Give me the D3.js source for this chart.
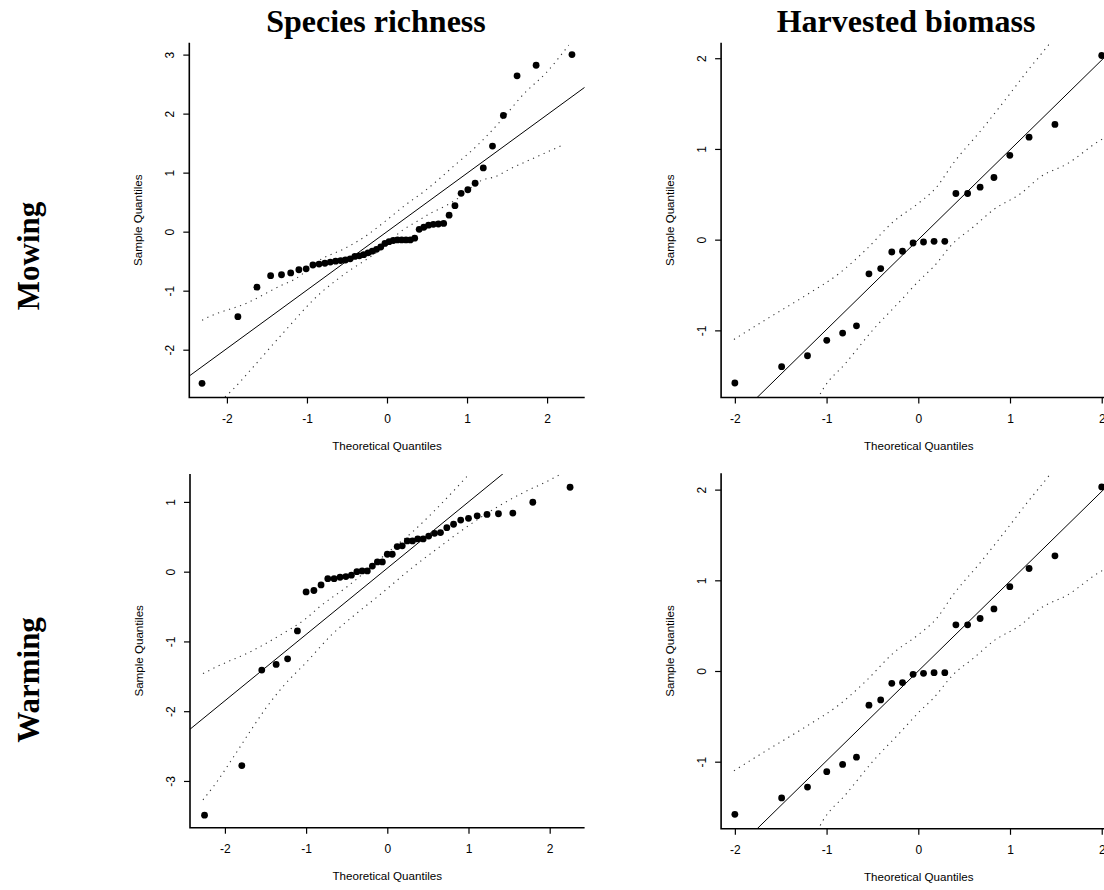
<!DOCTYPE html>
<html>
<head>
<meta charset="utf-8">
<script src="https://cdn.jsdelivr.net/npm/d3@7"></script>
<style>
  html, body { margin: 0; padding: 0; background: #fff; }
  svg { display: block; }
</style>
</head>
<body>
<script>
// ---------------- DATA ----------------
const columnTitles = ["Species richness", "Harvested biomass"];
const rowTitles = ["Mowing", "Warming"];
const xAxisTitle = "Theoretical Quantiles";
const yAxisTitle = "Sample Quantiles";

// theoretical quantiles (x positions of the points)
const richMowX = [-2.311,-1.863,-1.625,-1.454,-1.318,-1.203,-1.101,-1.010,-0.926,-0.849,-0.776,-0.708,-0.642,-0.579,-0.519,-0.460,-0.402,-0.346,-0.291,-0.237,-0.184,-0.131,-0.078,-0.026,0.026,0.078,0.131,0.184,0.237,0.291,0.346,0.402,0.460,0.519,0.579,0.642,0.708,0.776,0.849,0.926,1.010,1.101,1.203,1.318,1.454,1.625,1.863,2.311];
const richMowY = [-2.57,-1.44,-0.94,-0.745,-0.73,-0.70,-0.645,-0.63,-0.565,-0.55,-0.535,-0.515,-0.50,-0.49,-0.48,-0.46,-0.42,-0.41,-0.39,-0.36,-0.33,-0.30,-0.26,-0.20,-0.17,-0.15,-0.14,-0.14,-0.14,-0.14,-0.11,0.04,0.075,0.11,0.125,0.13,0.14,0.28,0.44,0.65,0.71,0.82,1.08,1.45,1.97,2.64,2.82,3.00];
const richMowLine = [0.0, 0.99]; // intercept, slope
const richMowUpper = [[-2.31,-1.50],[-2.22,-1.44],[-1.75,-1.21],[-1.32,-0.91],[-1.17,-0.82],[-0.80,-0.45],[-0.55,-0.30],[-0.25,-0.06],[0.0,0.20],[0.20,0.42],[0.50,0.72],[0.85,1.13],[1.12,1.45],[1.41,1.86],[1.72,2.35],[1.98,2.68],[2.27,3.16]];
const richMowLower = [[-2.31,-3.10],[-1.93,-2.68],[-1.67,-2.29],[-1.30,-1.72],[-0.83,-1.04],[-0.63,-0.82],[-0.46,-0.65],[-0.30,-0.51],[-0.09,-0.31],[0.20,0.03],[0.37,0.17],[0.54,0.31],[0.75,0.45],[0.87,0.55],[1.20,0.88],[1.35,0.93],[1.52,1.05],[1.79,1.22],[2.20,1.47]];

const bioX = [-2.000,-1.490,-1.208,-0.998,-0.825,-0.674,-0.538,-0.410,-0.289,-0.172,-0.057,0.057,0.172,0.289,0.410,0.538,0.674,0.825,0.998,1.208,1.490,2.000];
const bioY = [-1.58,-1.40,-1.28,-1.11,-1.03,-0.95,-0.377,-0.319,-0.136,-0.128,-0.037,-0.026,-0.018,-0.018,0.509,0.509,0.579,0.685,0.930,1.13,1.27,2.03];
const bioLine = [0.0, 0.99];
const bioUpper = [[-2.01,-1.10],[-1.66,-0.88],[-1.22,-0.61],[-0.86,-0.37],[-0.57,-0.11],[-0.27,0.20],[0.0,0.40],[0.20,0.58],[0.38,0.84],[0.68,1.20],[0.97,1.57],[1.19,1.86],[1.43,2.16],[1.55,2.32]];
const bioLower = [[-1.10,-1.76],[-1.04,-1.65],[-0.79,-1.36],[-0.49,-0.99],[-0.20,-0.68],[0.02,-0.44],[0.165,-0.30],[0.38,-0.04],[0.60,0.14],[0.82,0.33],[1.12,0.51],[1.33,0.69],[1.63,0.84],[1.96,1.08],[2.10,1.16]];

const richWarmX = [-2.251,-1.792,-1.546,-1.369,-1.228,-1.107,-1.000,-0.904,-0.816,-0.733,-0.655,-0.582,-0.510,-0.442,-0.375,-0.310,-0.246,-0.184,-0.122,-0.061,0.000,0.061,0.122,0.184,0.246,0.310,0.375,0.442,0.510,0.582,0.655,0.733,0.816,0.904,1.000,1.107,1.228,1.369,1.546,1.792,2.251];
const richWarmY = [-3.49,-2.78,-1.41,-1.33,-1.25,-0.85,-0.29,-0.27,-0.19,-0.10,-0.10,-0.08,-0.07,-0.05,0.00,0.01,0.01,0.08,0.14,0.14,0.25,0.25,0.36,0.37,0.44,0.44,0.47,0.47,0.51,0.55,0.56,0.63,0.68,0.74,0.765,0.80,0.82,0.83,0.84,0.995,1.21];
const richWarmLine = [0.05, 0.95];
const richWarmUpper = [[-2.27,-1.46],[-2.06,-1.34],[-1.69,-1.15],[-1.32,-0.91],[-1.00,-0.67],[-0.83,-0.50],[-0.50,-0.22],[0.03,0.30],[0.32,0.58],[0.57,0.86],[0.81,1.15],[1.02,1.41],[1.10,1.50]];
const richWarmLower = [[-2.27,-3.27],[-2.11,-3.03],[-1.88,-2.63],[-1.69,-2.29],[-1.51,-1.98],[-1.28,-1.64],[-0.99,-1.29],[-0.69,-0.91],[-0.38,-0.60],[-0.09,-0.33],[0.30,0.05],[0.65,0.36],[0.81,0.50],[1.26,0.86],[1.67,1.13],[1.96,1.29],[2.22,1.45]];

// tick values
const xTicks = [-2, -1, 0, 1, 2];
const yTicksRichMow = [-2, -1, 0, 1, 2, 3];
const yTicksBio = [-1, 0, 1, 2];
const yTicksRichWarm = [-3, -2, -1, 0, 1];

// ---------------- LAYOUT ----------------
const W = 1104, H = 890;
const sans = "'Liberation Sans', Arial, sans-serif";
const serif = "'Liberation Serif', 'Times New Roman', serif";

const panels = [
  { xd: [-2.47, 2.47], xr: [189.3, 584.7], yd: [-2.81, 3.2], yr: [397.5, 42.8],
    yt: yTicksRichMow, px: richMowX, py: richMowY, line: richMowLine, up: richMowUpper, lo: richMowLower },
  { xd: [-2.15, 2.16], xr: [721.1, 1116.4], yd: [-1.74, 2.17], yr: [397.5, 42.8],
    yt: yTicksBio, px: bioX, py: bioY, line: bioLine, up: bioUpper, lo: bioLower },
  { xd: [-2.43, 2.43], xr: [190.0, 584.6], yd: [-3.67, 1.40], yr: [827.7, 474.0],
    yt: yTicksRichWarm, px: richWarmX, py: richWarmY, line: richWarmLine, up: richWarmUpper, lo: richWarmLower },
  { xd: [-2.15, 2.16], xr: [721.1, 1116.4], yd: [-1.74, 2.18], yr: [828.8, 473.3],
    yt: yTicksBio, px: bioX, py: bioY, line: bioLine, up: bioUpper, lo: bioLower }
];

const svg = d3.select("body").append("svg")
  .attr("width", W).attr("height", H)
  .attr("viewBox", `0 0 ${W} ${H}`);

svg.append("rect").attr("width", W).attr("height", H).attr("fill", "#fff");

panels.forEach((p, i) => {
  const x = d3.scaleLinear().domain(p.xd).range(p.xr);
  const y = d3.scaleLinear().domain(p.yd).range(p.yr);
  const left = p.xr[0], right = p.xr[1], top = p.yr[1], bottom = p.yr[0];
  const g = svg.append("g");

  const clipId = "clip" + i;
  svg.append("defs").append("clipPath").attr("id", clipId)
    .append("rect").attr("x", left).attr("y", top)
    .attr("width", right - left).attr("height", bottom - top);

  const lineGen = d3.line().x(d => x(d[0])).y(d => y(d[1])).curve(d3.curveMonotoneX);

  // confidence envelopes (dotted)
  [p.up, p.lo].forEach(env => {
    g.append("path")
      .attr("d", lineGen(env))
      .attr("fill", "none")
      .attr("stroke", "#333")
      .attr("stroke-width", 1.1)
      .attr("stroke-dasharray", "1.2 4.6")
      .attr("clip-path", `url(#${clipId})`);
  });

  // reference line
  const [a, b] = p.line;
  g.append("line")
    .attr("x1", x(p.xd[0])).attr("y1", y(a + b * p.xd[0]))
    .attr("x2", x(p.xd[1])).attr("y2", y(a + b * p.xd[1]))
    .attr("stroke", "#000").attr("stroke-width", 1)
    .attr("clip-path", `url(#${clipId})`);

  // points
  g.selectAll("circle.pt").data(d3.range(p.px.length)).join("circle")
    .attr("class", "pt")
    .attr("cx", k => x(p.px[k]))
    .attr("cy", k => y(p.py[k]))
    .attr("r", 3.4)
    .attr("fill", "#000");

  // x axis
  const xa = g.append("g").attr("transform", `translate(0,${bottom})`)
    .call(d3.axisBottom(x).tickValues(xTicks).tickSize(6).tickPadding(10.5).tickFormat(d => String(d)));
  xa.select(".domain").remove();
  xa.selectAll("line").attr("stroke", "#000").attr("stroke-width", 1.2);
  xa.selectAll("text").attr("font-family", sans).attr("font-size", 12).attr("fill", "#000");
  xa.attr("font-family", null).attr("font-size", null);

  // y axis
  const ya = g.append("g").attr("transform", `translate(${left},0)`)
    .call(d3.axisLeft(y).tickValues(p.yt).tickSize(6).tickFormat(d => String(d)));
  ya.select(".domain").remove();
  ya.selectAll("line").attr("stroke", "#000").attr("stroke-width", 1.2);
  ya.selectAll("text")
    .attr("transform", "rotate(-90)")
    .attr("x", 0).attr("y", -15).attr("dy", null)
    .attr("text-anchor", "middle")
    .attr("font-family", sans).attr("font-size", 12).attr("fill", "#000");
  ya.attr("font-family", null).attr("font-size", null);

  // L-shaped box
  g.append("path")
    .attr("d", `M${left},${top}V${bottom}H${right}`)
    .attr("fill", "none").attr("stroke", "#000").attr("stroke-width", 1.6);

  // axis titles
  g.append("text")
    .attr("x", (left + right) / 2).attr("y", bottom + 52)
    .attr("text-anchor", "middle")
    .attr("font-family", sans).attr("font-size", 11.6).attr("fill", "#000")
    .text(xAxisTitle);
  g.append("text")
    .attr("transform", `translate(${left - 47},${(top + bottom) / 2}) rotate(-90)`)
    .attr("text-anchor", "middle")
    .attr("font-family", sans).attr("font-size", 11.6).attr("fill", "#000")
    .text(yAxisTitle);
});

// column titles
const titleX = [376, 906];
columnTitles.forEach((t, i) => {
  svg.append("text")
    .attr("x", titleX[i]).attr("y", 32)
    .attr("text-anchor", "middle")
    .attr("font-family", serif).attr("font-weight", "bold").attr("font-size", 32)
    .attr("fill", "#000")
    .text(t);
});

// row titles
const rowY = [256, 680];
rowTitles.forEach((t, i) => {
  svg.append("text")
    .attr("transform", `translate(39,${rowY[i]}) rotate(-90)`)
    .attr("text-anchor", "middle")
    .attr("font-family", serif).attr("font-weight", "bold").attr("font-size", 31)
    .attr("fill", "#000")
    .text(t);
});
</script>
</body>
</html>
